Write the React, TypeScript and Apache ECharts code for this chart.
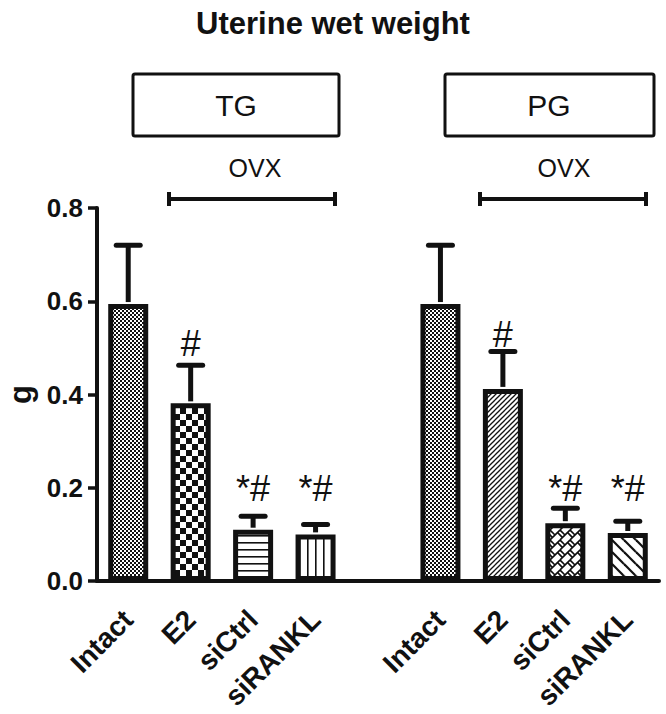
import React, { useEffect, useRef } from "react";
import * as echarts from "echarts";

const categories = ["Intact", "E2", "siCtrl", "siRANKL", "", "Intact", "E2", "siCtrl", "siRANKL"];
const meanValues: (number | null)[] = [0.594, 0.381, 0.110, 0.100, null, 0.594, 0.412, 0.124, 0.103];
const upperErrorValues: (number | null)[] = [0.720, 0.463, 0.139, 0.121, null, 0.720, 0.492, 0.156, 0.128];
const sigLabels = ["", "#", "*#", "*#", "", "", "#", "*#", "*#"];
const sigLabelY: (number | null)[] = [null, 0.51, 0.198, 0.198, null, null, 0.528, 0.198, 0.198];
const patternNames = ["fineChecker", "checker", "hLines", "vLines", "", "fineChecker", "diagFwd", "brick", "diagBack"];
const yTicks = [0, 0.2, 0.4, 0.6, 0.8];
const groupLabels = ["TG", "PG"];
const bracketLabel = "OVX";
const titleText = "Uterine wet weight";
const yAxisName = "g";

const INK = "#111111";
const FONT = "'Liberation Sans', Arial, Helvetica, sans-serif";

function makeTile(kind: string): HTMLCanvasElement {
  const c = document.createElement("canvas");
  let s = 8;
  if (kind === "fineChecker") s = 4;
  else if (kind === "checker") s = 12;
  else if (kind === "hLines") s = 7;
  else if (kind === "vLines") s = 8;
  else if (kind === "diagFwd") s = 5;
  else if (kind === "brick") s = 10;
  else if (kind === "diagBack") s = 12;
  c.width = s;
  c.height = s;
  const g = c.getContext("2d")!;
  g.fillStyle = "#ffffff";
  g.fillRect(0, 0, s, s);
  g.fillStyle = INK;
  g.strokeStyle = INK;
  const seg = (x1: number, y1: number, x2: number, y2: number, w: number) => {
    g.lineWidth = w;
    for (const dx of [-s, 0, s]) {
      for (const dy of [-s, 0, s]) {
        g.beginPath();
        g.moveTo(x1 + dx, y1 + dy);
        g.lineTo(x2 + dx, y2 + dy);
        g.stroke();
      }
    }
  };
  if (kind === "fineChecker") {
    g.fillRect(0, 0, 2, 2);
    g.fillRect(2, 2, 2, 2);
  } else if (kind === "checker") {
    g.fillRect(0, 0, 6, 6);
    g.fillRect(6, 6, 6, 6);
  } else if (kind === "hLines") {
    g.fillRect(0, 3, s, 1.6);
  } else if (kind === "vLines") {
    g.fillRect(3, 0, 1.6, s);
  } else if (kind === "diagFwd") {
    seg(0, s, s, 0, 1.3);
  } else if (kind === "diagBack") {
    seg(0, 0, s, s, 2.2);
  } else if (kind === "brick") {
    seg(0, s, s, 0, 1.6);
    seg(0, 0, 5, 5, 1.6);
    seg(7.5, 2.5, 12.5, 7.5, 1.6);
  }
  return c;
}

export default function App() {
  const ref = useRef<HTMLDivElement>(null);

  useEffect(() => {
    if (!ref.current) return;
    const chart = echarts.init(ref.current, null, { renderer: "svg" });

    const barData = categories.map((_, i) => {
      const v = meanValues[i];
      if (v === null) return "-";
      return {
        value: v,
        itemStyle: {
          color: { image: makeTile(patternNames[i]), repeat: "repeat" },
          borderColor: INK,
          borderWidth: 5,
        },
      };
    });

    const errData: any[] = [];
    categories.forEach((_, i) => {
      if (meanValues[i] !== null && upperErrorValues[i] !== null) {
        errData.push([i, meanValues[i], upperErrorValues[i], sigLabelY[i] ?? upperErrorValues[i]]);
      }
    });

    const graphic: any[] = [];
    const boxes = [
      { x: 133, w: 206, cx: 236 },
      { x: 445, w: 209, cx: 549 },
    ];
    const brackets = [
      { x1: 169, x2: 335, cx: 255 },
      { x1: 480, x2: 646, cx: 564 },
    ];
    boxes.forEach((b, k) => {
      graphic.push({
        type: "rect",
        shape: { x: b.x, y: 74, width: b.w, height: 62, r: 2 },
        style: { fill: "#ffffff", stroke: INK, lineWidth: 3 },
      });
      graphic.push({
        type: "text",
        x: b.cx,
        y: 105,
        style: {
          text: groupLabels[k],
          fontSize: 30,
          fontFamily: FONT,
          fill: INK,
          align: "center",
          verticalAlign: "middle",
        },
      });
    });
    brackets.forEach((b) => {
      graphic.push({
        type: "text",
        x: b.cx,
        y: 168,
        style: {
          text: bracketLabel,
          fontSize: 25,
          fontFamily: FONT,
          fill: INK,
          align: "center",
          verticalAlign: "middle",
        },
      });
      graphic.push({ type: "line", shape: { x1: b.x1, y1: 199, x2: b.x2, y2: 199 }, style: { stroke: INK, lineWidth: 4 } });
      graphic.push({ type: "line", shape: { x1: b.x1, y1: 192, x2: b.x1, y2: 206 }, style: { stroke: INK, lineWidth: 4 } });
      graphic.push({ type: "line", shape: { x1: b.x2, y1: 192, x2: b.x2, y2: 206 }, style: { stroke: INK, lineWidth: 4 } });
    });

    chart.setOption({
      animation: false,
      backgroundColor: "#ffffff",
      title: {
        text: titleText,
        left: "center",
        top: 3,
        textStyle: { fontSize: 31, fontWeight: "bold", fontFamily: FONT, color: INK },
      },
      grid: { left: 97, right: 7, top: 208, bottom: 133, containLabel: false, outerBoundsMode: "none" },
      xAxis: {
        type: "category",
        data: categories,
        axisLine: { lineStyle: { color: INK, width: 4 } },
        axisTick: {
          alignWithLabel: true,
          interval: (_i: number, v: string) => v !== "",
          length: 10,
          lineStyle: { color: INK, width: 3.5 },
        },
        axisLabel: {
          interval: 0,
          rotate: 45,
          margin: 34,
          fontSize: 28,
          fontWeight: "bold",
          fontFamily: FONT,
          color: INK,
        },
      },
      yAxis: {
        type: "value",
        min: yTicks[0],
        max: yTicks[yTicks.length - 1],
        interval: 0.2,
        name: yAxisName,
        nameLocation: "middle",
        nameRotate: 90,
        nameGap: 58,
        nameTextStyle: { fontSize: 31, fontWeight: "bold", fontFamily: FONT, color: INK },
        splitLine: { show: false },
        axisLine: { show: true, lineStyle: { color: INK, width: 4 } },
        axisTick: { show: true, length: 9, lineStyle: { color: INK, width: 3.5 } },
        axisLabel: {
          margin: 14,
          fontSize: 26,
          fontWeight: "bold",
          fontFamily: FONT,
          color: INK,
          formatter: (v: number) => v.toFixed(1),
        },
      },
      series: [
        {
          type: "bar",
          data: barData,
          barWidth: 40,
          z: 2,
        },
        {
          type: "custom",
          z: 3,
          data: errData,
          renderItem: (_params: any, api: any) => {
            const x = api.value(0);
            const m = api.value(1);
            const u = api.value(2);
            const ly = api.value(3);
            const label = sigLabels[x as number] || "";
            const p0 = api.coord([x, m]);
            const p1 = api.coord([x, u]);
            const pl = api.coord([x, ly]);
            const half = 12;
            const children: any[] = [
              { type: "line", shape: { x1: p0[0], y1: p0[1] - 2, x2: p1[0], y2: p1[1] }, style: { stroke: INK, lineWidth: 5 } },
              { type: "line", shape: { x1: p1[0] - half, y1: p1[1], x2: p1[0] + half, y2: p1[1] }, style: { stroke: INK, lineWidth: 5, lineCap: "round" } },
            ];
            if (label) {
              children.push({
                type: "text",
                x: pl[0],
                y: pl[1],
                style: {
                  text: label,
                  fontSize: 36,
                  fontFamily: FONT,
                  fill: INK,
                  align: "center",
                  verticalAlign: "middle",
                },
              });
            }
            return { type: "group", children };
          },
        },
      ],
      graphic,
    });

    return () => chart.dispose();
  }, []);

  return <div ref={ref} style={{ position: "fixed", left: 0, top: 0, width: 666, height: 714 }} />;
}
